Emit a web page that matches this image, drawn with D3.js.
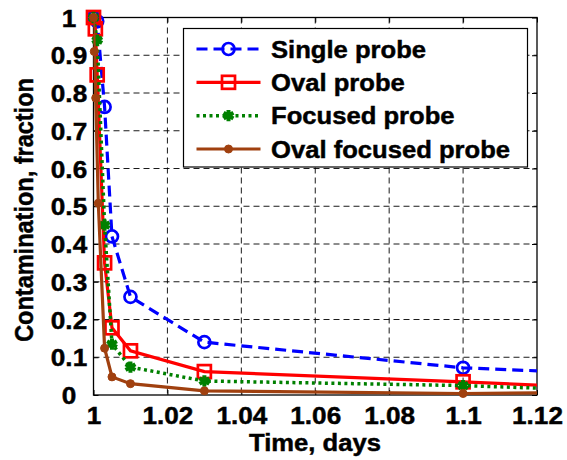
<!DOCTYPE html>
<html>
<head>
<meta charset="utf-8">
<script src="https://cdn.jsdelivr.net/npm/d3@7"></script>
<style>
  body { margin: 0; background: #fff; }
  text { font-family: "Liberation Sans", Arial, sans-serif; font-weight: bold; stroke: #000; stroke-width: 0.45px; }
</style>
</head>
<body>
<svg width="567" height="460"></svg>
<script>
// series data (time in days, contamination fraction)
var singleT = [1, 1.001, 1.003, 1.005, 1.01, 1.03, 1.1, 1.15];
var singleV = [1, 0.99, 0.763, 0.42, 0.26, 0.14, 0.072, 0.052];
var ovalT = [1, 1.0005, 1.001, 1.003, 1.005, 1.01, 1.03, 1.1, 1.15];
var ovalV = [1, 0.97, 0.848, 0.35, 0.178, 0.117, 0.062, 0.035, 0.013];
var focusedT = [1, 1.001, 1.003, 1.005, 1.01, 1.03, 1.1, 1.15];
var focusedV = [1, 0.94, 0.45, 0.135, 0.074, 0.037, 0.025, 0.008];
var ovalFocT = [1, 1.0002, 1.0006, 1.0013, 1.003, 1.005, 1.01, 1.03, 1.1, 1.15];
var ovalFocV = [1, 0.91, 0.787, 0.508, 0.124, 0.048, 0.03, 0.011, 0.004, 0.008];

var seriesNames = ["Single probe", "Oval probe", "Focused probe", "Oval focused probe"];
var xTickLabels = ["1", "1.02", "1.04", "1.06", "1.08", "1.1", "1.12"];
var yTickLabels = ["0", "0.1", "0.2", "0.3", "0.4", "0.5", "0.6", "0.7", "0.8", "0.9", "1"];

var plotLeft = 93.5, plotRight = 537, plotTop = 17.5, plotBottom = 395;
var width = plotRight - plotLeft, height = plotBottom - plotTop;
var sx = 1.09; // glyphs in the picture are a bit wider than tall

var svg = d3.select("svg");

var xScale = d3.scaleLinear().domain([1, 1.12]).range([0, width]);
var yScale = d3.scaleLinear().domain([0, 1]).range([height, 0]);

var g = svg.append("g").attr("transform", "translate(" + plotLeft + "," + plotTop + ")");

svg.append("defs").append("clipPath").attr("id", "plotclip")
    .append("rect").attr("width", width).attr("height", height);

// grid
var xTicks = xTickLabels.map(Number);
var yTicks = yTickLabels.map(Number);

g.append("g").selectAll("line")
    .data(xTicks.slice(1, -1))
    .enter().append("line")
    .attr("x1", function(d) { return xScale(d); })
    .attr("x2", function(d) { return xScale(d); })
    .attr("y1", 0).attr("y2", height)
    .attr("stroke", "#000").attr("stroke-width", 0.9)
    .attr("stroke-dasharray", "6,4");

g.append("g").selectAll("line")
    .data(yTicks.slice(1, -1))
    .enter().append("line")
    .attr("y1", function(d) { return yScale(d); })
    .attr("y2", function(d) { return yScale(d); })
    .attr("x1", 0).attr("x2", width)
    .attr("stroke", "#000").attr("stroke-width", 0.9)
    .attr("stroke-dasharray", "6,4");

// axes with inward ticks on all four sides
function styleAxis(sel) {
    sel.select(".domain").remove();
    sel.selectAll(".tick line").attr("stroke", "#000").attr("stroke-width", 1);
}

var xAxis = d3.axisBottom(xScale).tickValues(xTicks)
    .tickFormat(function(d, i) { return xTickLabels[i]; })
    .tickSizeInner(-5).tickPadding(14);
var gx = g.append("g").attr("transform", "translate(0," + height + ")").call(xAxis);
styleAxis(gx);
gx.selectAll(".tick text")
    .attr("font-size", 24).attr("fill", "#000")
    .attr("y", 29).attr("dy", 0)
    .attr("transform", "scale(" + sx + ",1)");

g.append("g").call(d3.axisTop(xScale).tickValues(xTicks).tickSizeInner(-5).tickFormat(""))
    .call(styleAxis);

var yAxis = d3.axisLeft(yScale).tickValues(yTicks)
    .tickFormat(function(d, i) { return yTickLabels[i]; })
    .tickSizeInner(-5);
var gy = g.append("g").call(yAxis);
styleAxis(gy);
gy.selectAll(".tick text")
    .attr("font-size", 24).attr("fill", "#000")
    .attr("text-anchor", "middle")
    .attr("x", -24.5 / sx).attr("dy", "0.36em")
    .attr("transform", "scale(" + sx + ",1)");

g.append("g").attr("transform", "translate(" + width + ",0)")
    .call(d3.axisRight(yScale).tickValues(yTicks).tickSizeInner(-5).tickFormat(""))
    .call(styleAxis);

g.append("rect").attr("width", width).attr("height", height)
    .attr("fill", "none").attr("stroke", "#000").attr("stroke-width", 1.3);

// series
var series = [
    { t: singleT, v: singleV, color: "#0000ff", dash: "11,6", width: 3.2, marker: "circle" },
    { t: ovalT, v: ovalV, color: "#ff0000", dash: null, width: 3.2, marker: "square" },
    { t: focusedT, v: focusedV, color: "#008000", dash: "3,3.5", width: 3.5, marker: "star" },
    { t: ovalFocT, v: ovalFocV, color: "#a0400f", dash: null, width: 3.2, marker: "dot" }
];

var line = d3.line()
    .x(function(d) { return xScale(d[0]); })
    .y(function(d) { return yScale(d[1]); });

function drawMarker(sel, s) {
    if (s.marker === "circle") {
        sel.append("circle").attr("r", 6).attr("fill", "none")
            .attr("stroke", s.color).attr("stroke-width", 2.7);
    } else if (s.marker === "square") {
        sel.append("rect").attr("x", -6.5).attr("y", -6.5).attr("width", 13).attr("height", 13)
            .attr("fill", "none").attr("stroke", s.color).attr("stroke-width", 2.7);
    } else if (s.marker === "star") {
        sel.append("path").attr("d", d3.symbol().type(d3.symbolAsterisk).size(90)())
            .attr("fill", "none").attr("stroke", s.color).attr("stroke-width", 4);
    } else {
        sel.append("circle").attr("r", 4).attr("fill", s.color).attr("stroke", s.color);
    }
}

series.forEach(function(s) {
    var pts = s.t.map(function(t, i) { return [t, s.v[i]]; });
    g.append("path").datum(pts)
        .attr("clip-path", "url(#plotclip)")
        .attr("d", line)
        .attr("fill", "none")
        .attr("stroke", s.color)
        .attr("stroke-width", s.width)
        .attr("stroke-dasharray", s.dash);
    g.append("g").selectAll("g")
        .data(pts.filter(function(d) { return d[0] <= 1.12; }))
        .enter().append("g")
        .attr("transform", function(d) { return "translate(" + xScale(d[0]) + "," + yScale(d[1]) + ")"; })
        .each(function() { drawMarker(d3.select(this), s); });
});

// legend
var legend = svg.append("g").attr("transform", "translate(183.5,28.5)");
legend.append("rect").attr("width", 344).attr("height", 138.5)
    .attr("fill", "#fff").attr("stroke", "#000").attr("stroke-width", 1.2);

var rowY = d3.scaleLinear().domain([0, 3]).range([20.5, 120.5]);

series.forEach(function(s, i) {
    var row = legend.append("g").attr("transform", "translate(0," + rowY(i) + ")");
    row.append("line").attr("x1", 13).attr("x2", 77).attr("y1", 0).attr("y2", 0)
        .attr("stroke", s.color).attr("stroke-width", s.width)
        .attr("stroke-dasharray", s.dash);
    drawMarker(row.append("g").attr("transform", "translate(45,0)"), s);
    row.append("text")
        .attr("transform", "translate(87.5,8.5) scale(" + sx + ",1)")
        .attr("font-size", 23.5)
        .attr("fill", "#000")
        .text(seriesNames[i]);
});

// axis titles
svg.append("text")
    .attr("transform", "translate(315,451) scale(" + sx + ",1)")
    .attr("text-anchor", "middle")
    .attr("font-size", 23.5)
    .text("Time, days");

svg.append("text")
    .attr("transform", "translate(33,210) scale(" + sx + ",1) rotate(-90)")
    .attr("text-anchor", "middle")
    .attr("font-size", 23.5)
    .text("Contamination, fraction");
</script>
</body>
</html>
